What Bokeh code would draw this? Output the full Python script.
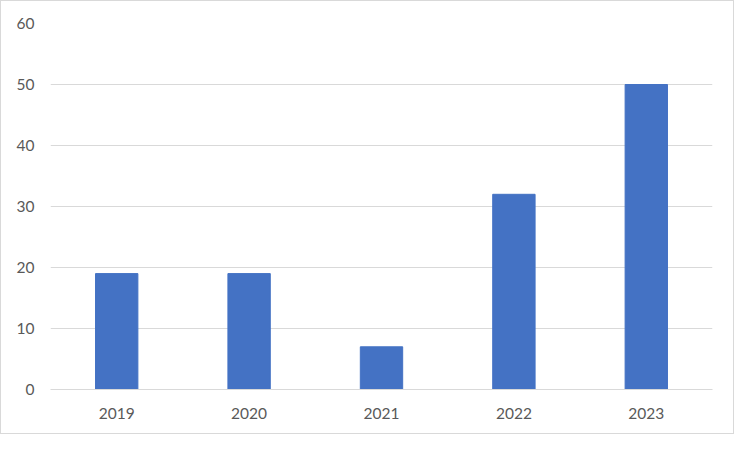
from bokeh.plotting import figure
from bokeh.models import ColumnDataSource, FixedTicker, Range1d
from bokeh.embed import file_html
from bokeh.resources import INLINE

years = ["2019", "2020", "2021", "2022", "2023"]
values = [19, 19, 7, 32, 50]
y_ticks = [0, 10, 20, 30, 40, 50, 60]

source = ColumnDataSource(data=dict(years=years, values=values))

p = figure(
    x_range=years,
    y_range=Range1d(0, 60),
    width=734,
    height=434,
    output_backend="svg",
    toolbar_location=None,
    min_border_left=49,
    min_border_right=23,
    min_border_top=22,
    min_border_bottom=46,
)
p.styles = {"border": "1px solid #D9D9D9"}

p.vbar(x="years", top="values", width=0.32, source=source,
       fill_color="#4472C4", line_color="#4472C4")

p.x_range.range_padding = 0
p.outline_line_color = None
p.background_fill_color = "white"
p.border_fill_color = "white"

p.xgrid.grid_line_color = None
p.ygrid.grid_line_color = "#D9D9D9"
p.ygrid.grid_line_width = 1
p.yaxis.ticker = FixedTicker(ticks=y_ticks)

for ax in (p.xaxis, p.yaxis):
    ax.major_tick_line_color = None
    ax.minor_tick_line_color = None
    ax.major_label_text_font = "Lato"
    ax.major_label_text_font_size = "15.5px"
    ax.major_label_text_color = "#595959"

p.yaxis.axis_line_color = None
p.yaxis.major_label_standoff = 10
p.xaxis.axis_line_color = "#D9D9D9"
p.xaxis.major_label_standoff = 12

open("out.html", "w").write(file_html(p, INLINE))
